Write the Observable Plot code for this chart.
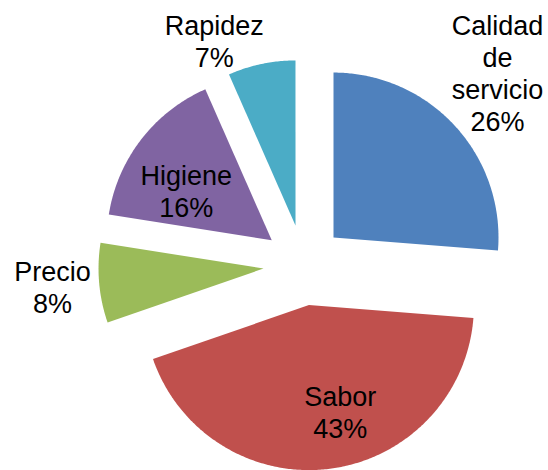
<!DOCTYPE html>
<html><head><meta charset="utf-8">
<script src="https://cdn.jsdelivr.net/npm/d3@7"></script>
<script src="https://cdn.jsdelivr.net/npm/@observablehq/plot@0.6"></script>
<style>body{margin:0;background:#fff} #chart{width:548px;height:470px}</style>
</head><body><div id="chart"></div>
<script>
// ---- data ----
const categories = ["Calidad de servicio", "Sabor", "Precio", "Higiene", "Rapidez"];
const labelNames = ["Calidad\nde\nservicio", "Sabor", "Precio", "Higiene", "Rapidez"];
const shares = [26.25, 43.45, 7.8, 15.9, 6.6];      // slice sizes
const percentLabels = [26, 43, 8, 16, 7];            // printed percentages
const colors = ["#4F81BD", "#C0504D", "#9BBB59", "#8064A2", "#4BACC6"];

// ---- layout ----
const W = 548, H = 470, CX = 303.3, CY = 264.5, R = 165;
const explode = 0.245;
const labelRadius = [1.655, 0.915, 1.529, 0.842, 1.462];
const labelAngleShift = [-2.05, -6.7, 0, -5.4, -9.9]; // degrees

const arcs = d3.pie().sort(null).value(d => d)(shares);
const slicePts = [];
const labels = [];
arcs.forEach((a, i) => {
  const mid = (a.startAngle + a.endAngle) / 2;
  const ox = explode * Math.sin(mid), oy = explode * Math.cos(mid);
  const name = categories[i];
  slicePts.push({name, x: ox, y: oy});
  const n = Math.max(2, Math.ceil((a.endAngle - a.startAngle) / 0.01));
  for (let k = 0; k <= n; k++) {
    const t = a.startAngle + (a.endAngle - a.startAngle) * k / n;
    slicePts.push({name, x: ox + Math.sin(t), y: oy + Math.cos(t)});
  }
  const la = mid + labelAngleShift[i] * Math.PI / 180;
  labels.push({
    name,
    text: labelNames[i] + "\n" + percentLabels[i] + "%",
    x: labelRadius[i] * Math.sin(la),
    y: labelRadius[i] * Math.cos(la)
  });
});

const chart = Plot.plot({
  width: W, height: H,
  margin: 0,
  x: {domain: [-CX / R, (W - CX) / R], axis: null},
  y: {domain: [(CY - H) / R, CY / R], axis: null},
  color: {domain: categories, range: colors},
  style: {fontFamily: "Arial, 'Liberation Sans', sans-serif", background: "#fff"},
  marks: [
    Plot.line(slicePts, {x: "x", y: "y", z: "name", fill: "name", stroke: "none", curve: "linear-closed"}),
    Plot.text(labels, {x: "x", y: "y", text: "text", fontSize: 27, lineHeight: 1.185, fill: "#000"})
  ]
});
document.getElementById("chart").appendChild(chart);
</script>
</body></html>
